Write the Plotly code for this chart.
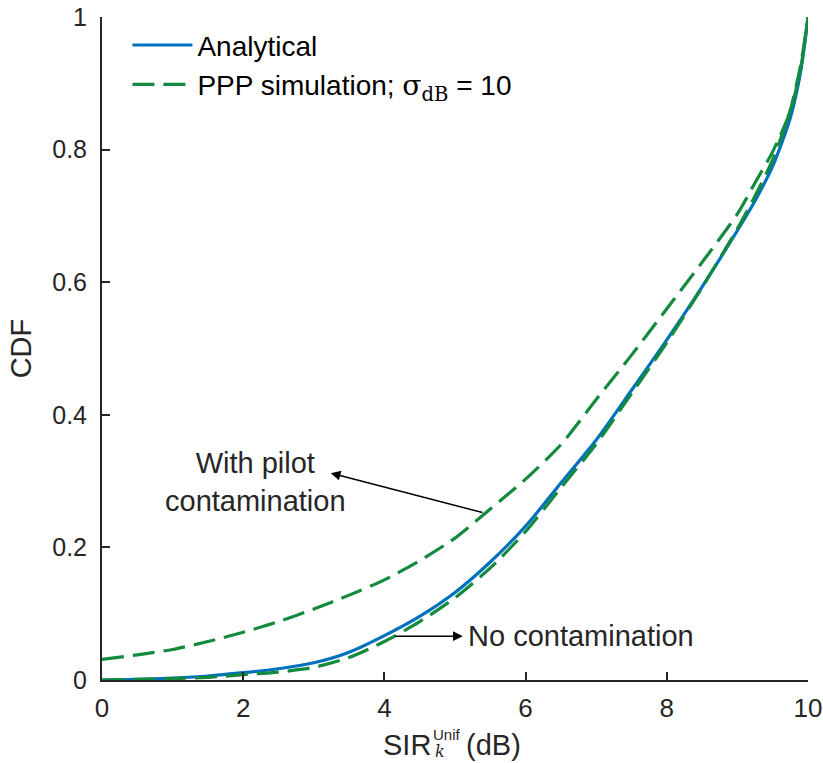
import plotly.graph_objects as go

sir_db = [0, 0.5, 1, 1.5, 2, 2.5, 3, 3.5, 4, 4.5, 5, 5.5, 6, 6.5, 7, 7.5, 8, 8.5, 9, 9.25, 9.5, 9.75, 9.9, 10]

cdf_analytical = [0.0, 0.001, 0.003, 0.006, 0.011, 0.017, 0.026, 0.042, 0.067, 0.096, 0.132, 0.178, 0.232,
                  0.297, 0.362, 0.437, 0.513, 0.593, 0.678, 0.723, 0.775, 0.848, 0.92, 1.0]
cdf_sim_no_contam = [0.0, 0.001, 0.002, 0.004, 0.008, 0.012, 0.019, 0.034, 0.058, 0.088, 0.124, 0.169, 0.224,
                     0.29, 0.356, 0.432, 0.509, 0.592, 0.681, 0.73, 0.785, 0.86, 0.93, 1.0]
cdf_sim_pilot = [0.031, 0.038, 0.046, 0.058, 0.072, 0.088, 0.107, 0.128, 0.151, 0.18, 0.214, 0.258, 0.303,
                 0.355, 0.423, 0.49, 0.56, 0.63, 0.703, 0.75, 0.797, 0.858, 0.925, 1.0]

x_ticks = [0, 2, 4, 6, 8, 10]
y_ticks = [0, 0.2, 0.4, 0.6, 0.8, 1]
y_tick_labels = ["0", "0.2", "0.4", "0.6", "0.8", "1"]

BLUE = "#0072BD"
GREEN = "#138A3E"
INK = "#262626"
FONT = "Liberation Sans, Arial, sans-serif"

fig = go.Figure()
fig.add_trace(go.Scatter(x=sir_db, y=cdf_analytical, mode="lines", name="Analytical",
                         line=dict(color=BLUE, width=3.2, shape="spline", smoothing=0.7), legendgroup="a"))
fig.add_trace(go.Scatter(x=sir_db, y=cdf_sim_no_contam, mode="lines",
                         name="PPP simulation; <span style='font-family:DejaVu Serif, serif'>σ<sub>dB</sub></span> = 10",
                         line=dict(color=GREEN, width=3.2, dash="22px,9px", shape="spline", smoothing=0.7),
                         legendgroup="b"))
fig.add_trace(go.Scatter(x=sir_db, y=cdf_sim_pilot, mode="lines", showlegend=False,
                         line=dict(color=GREEN, width=3.2, dash="22px,9px", shape="spline", smoothing=0.7),
                         legendgroup="b"))

# arrows
fig.add_annotation(x=3.24, y=0.312, ax=5.41, ay=0.252, xref="x", yref="y", axref="x", ayref="y",
                   text="", showarrow=True, arrowhead=2, arrowsize=1.3, arrowwidth=1.5, arrowcolor="black")
fig.add_annotation(x=5.11, y=0.066, ax=4.13, ay=0.066, xref="x", yref="y", axref="x", ayref="y",
                   text="", showarrow=True, arrowhead=2, arrowsize=1.3, arrowwidth=1.5, arrowcolor="black")
fig.add_annotation(x=2.17, y=0.299, xref="x", yref="y", text="With pilot<br>contamination",
                   showarrow=False, font=dict(family=FONT, size=29, color=INK), align="center")
fig.add_annotation(x=5.16, y=0.066, xref="x", yref="y", text="No contamination", xanchor="left",
                   showarrow=False, font=dict(family=FONT, size=29, color=INK))

# x-axis title built from pieces
fig.add_annotation(x=0.5, y=-0.098, xref="paper", yref="paper", xanchor="right", yanchor="middle",
                   text="SIR", showarrow=False, font=dict(family=FONT, size=29, color=INK), xshift=-22)
fig.add_annotation(x=0.5, y=-0.098, xref="paper", yref="paper", xanchor="left", yanchor="middle",
                   text="Unif", showarrow=False, font=dict(family=FONT, size=15, color=INK), xshift=-24, yshift=10)
fig.add_annotation(x=0.5, y=-0.098, xref="paper", yref="paper", xanchor="left", yanchor="middle",
                   text="<i>k</i>", showarrow=False, font=dict(family="DejaVu Serif, serif", size=16, color=INK),
                   xshift=-22, yshift=-7)
fig.add_annotation(x=0.5, y=-0.098, xref="paper", yref="paper", xanchor="left", yanchor="middle",
                   text="(dB)", showarrow=False, font=dict(family=FONT, size=29, color=INK), xshift=9)

fig.update_layout(
    width=823, height=763,
    margin=dict(l=102, r=15, t=17, b=83, autoexpand=False),
    paper_bgcolor="white", plot_bgcolor="white",
    font=dict(family=FONT, size=27, color=INK),
    showlegend=True,
    legend=dict(x=0.036, y=0.995, xanchor="left", yanchor="top", bgcolor="rgba(0,0,0,0)",
                font=dict(family=FONT, size=28, color="black"), itemwidth=60,
                traceorder="grouped", tracegroupgap=0),
    yaxis=dict(range=[0, 1], tickvals=y_ticks, ticktext=y_tick_labels, ticks="inside", ticklen=8,
               tickwidth=1.5, tickcolor=INK, showline=True, linecolor=INK, linewidth=2, showgrid=False,
               zeroline=False, tickfont=dict(size=25, color=INK), automargin=False, ticklabelstandoff=8,
               ticklabeloverflow="allow",
               title=dict(text="CDF", font=dict(size=29, color=INK), standoff=12)),
    xaxis=dict(range=[0, 10], tickvals=x_ticks, ticks="inside", ticklen=8, tickwidth=1.5, tickcolor=INK,
               showline=True, linecolor=INK, linewidth=2, showgrid=False, zeroline=False, automargin=False,
               tickfont=dict(size=26, color=INK), ticklabelstandoff=4, ticklabeloverflow="allow"),
)

# remove the default 8px body margin of the page so the figure fills the window exactly
fig.write_html("out.html", config={"displayModeBar": False},
               post_script="document.body.style.margin='0';document.body.style.padding='0';")
